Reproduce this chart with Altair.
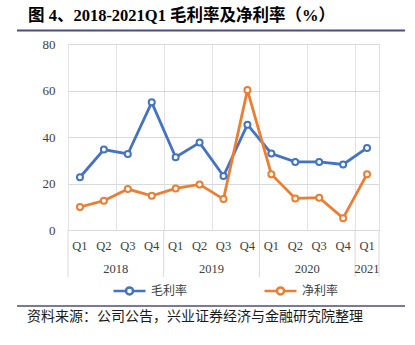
import altair as alt
import pandas as pd

quarters = ["Q1", "Q2", "Q3", "Q4", "Q1", "Q2", "Q3", "Q4", "Q1", "Q2", "Q3", "Q4", "Q1"]
years = ["2018"] * 4 + ["2019"] * 4 + ["2020"] * 4 + ["2021"]
gross = [22.7, 34.6, 32.7, 54.9, 31.3, 37.6, 23.2, 45.3, 32.9, 29.3, 29.3, 28.2, 35.3]
net = [9.9, 12.6, 17.6, 14.7, 17.9, 19.6, 13.3, 60.2, 24.0, 13.6, 13.9, 5.1, 24.0]
series_names = ["毛利率", "净利率"]
series_colors = ["#4472C4", "#ED7D31"]
title_text = "图 4、2018-2021Q1 毛利率及净利率（%）"
source_text = "资料来源：公司公告，兴业证券经济与金融研究院整理"

n = len(quarters)
rows = []
for i in range(n):
    rows.append({"idx": i, "q": quarters[i], "year": years[i], "series": series_names[0], "value": gross[i]})
    rows.append({"idx": i, "q": quarters[i], "year": years[i], "series": series_names[1], "value": net[i]})
df = pd.DataFrame(rows)

cat_df = pd.DataFrame({"idx": list(range(n)), "q": quarters, "year": years})
year_df = cat_df.groupby("year", as_index=False)["idx"].agg(["min", "max"]).reset_index()
year_df["mid"] = (year_df["min"] + year_df["max"]) / 2
bounds = sorted(set([b - 0.5 for b in year_df["min"]] + [year_df["max"].max() + 0.5]))
bound_df = pd.DataFrame({"b": bounds})

W, H = 311, 186
SERIF = "Liberation Serif"
TITLE_FONT = "Liberation Serif, Noto Sans CJK SC"
CJK = "Noto Sans CJK SC"

xscale = alt.Scale(domain=[-0.5, n - 0.5], nice=False, zero=False)
grid_vals = [i / 2 - 0.5 for i in range(2 * n + 1)]

xaxis = alt.Axis(values=grid_vals, grid=True, gridColor="#e3e3e3", labels=False,
                 ticks=False, domain=False, title=None)
yaxis = alt.Axis(values=[0, 20, 40, 60, 80], grid=True, gridColor="#d9d9d9", ticks=False,
                 domain=False, title=None, labelFont=SERIF, labelFontSize=13,
                 labelColor="#404040", labelPadding=13)

legend_path = ("M-1,0L-0.22,0M0.22,0L1,0"
               "M-0.22,0A0.22,0.22,0,1,1,0.22,0A0.22,0.22,0,1,1,-0.22,0")

lines = alt.Chart(df).mark_line(
    strokeWidth=2.8,
    point=alt.OverlayMarkDef(filled=False, fill="white", size=36, strokeWidth=2, opacity=1),
).encode(
    x=alt.X("idx:Q", scale=xscale, axis=xaxis),
    y=alt.Y("value:Q", scale=alt.Scale(domain=[0, 80], nice=False), axis=yaxis),
    color=alt.Color(
        "series:N",
        scale=alt.Scale(domain=series_names, range=series_colors),
        legend=alt.Legend(
            title=None, orient="none", direction="horizontal", legendX=44, legendY=229,
            symbolType=legend_path, symbolSize=1024, symbolStrokeWidth=2.5,
            symbolFillColor="white", labelFont=CJK, labelFontSize=12, labelColor="#404040",
            labelOffset=4, columnPadding=71,
        ),
    ),
    order="idx:Q",
)

qlabels = alt.Chart(cat_df).mark_text(font=SERIF, fontSize=12.5, color="#404040", baseline="middle").encode(
    x=alt.X("idx:Q", scale=xscale), y=alt.value(H + 16), text="q:N"
)
ylabels = alt.Chart(year_df).mark_text(font=SERIF, fontSize=12.5, color="#404040", baseline="middle").encode(
    x=alt.X("mid:Q", scale=xscale), y=alt.value(H + 39), text="year:N"
)
seps = alt.Chart(bound_df).mark_rule(color="#d9d9d9", strokeWidth=1).encode(
    x=alt.X("b:Q", scale=xscale), y=alt.value(H), y2=alt.value(H + 47)
)

title_df = pd.DataFrame({"t": [title_text]})
title = alt.Chart(title_df).mark_text(font=TITLE_FONT, fontSize=16.5, fontWeight="bold", color="#000000",
                                      align="left", baseline="middle").encode(
    x=alt.value(-40), y=alt.value(-28.5), text="t:N"
)
title_rule = alt.Chart(title_df).mark_rule(color="#4d4d80", strokeWidth=2).encode(
    x=alt.value(-51), x2=alt.value(337), y=alt.value(-13.5)
)
src_df = pd.DataFrame({"t": [source_text]})
source = alt.Chart(src_df).mark_text(font=CJK, fontSize=14, fontWeight="normal", color="#1a1a1a",
                                     align="left", baseline="middle").encode(
    x=alt.value(-41), y=alt.value(272.5), text="t:N"
)
src_rule = alt.Chart(src_df).mark_rule(color="#4d4d80", strokeWidth=1.5).encode(
    x=alt.value(-51), x2=alt.value(337), y=alt.value(262)
)

chart = alt.layer(seps, lines, qlabels, ylabels, title, title_rule, source, src_rule).properties(
    width=W, height=H,
    autosize=alt.AutoSizeParams(type="none"),
    padding={"left": 68, "top": 44, "right": 36, "bottom": 115},
).configure_view(fill="#f0f0f0", stroke="#d9d9d9").configure(background="white")

chart.save("out.html", embed_options={"renderer": "svg", "actions": False})
